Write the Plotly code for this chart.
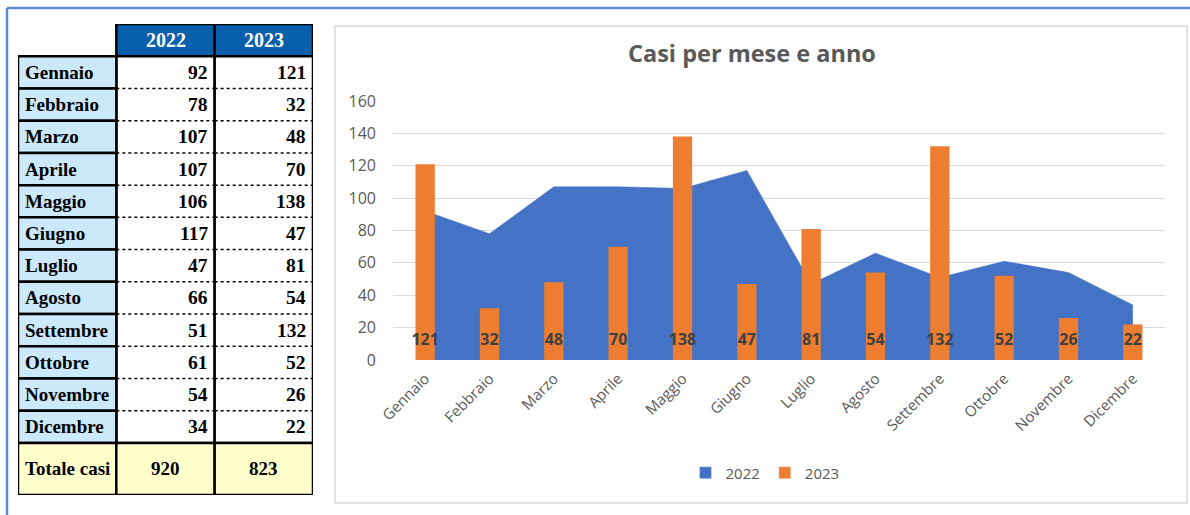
import plotly.graph_objects as go

# ---------------- data ----------------
months = ["Gennaio", "Febbraio", "Marzo", "Aprile", "Maggio", "Giugno",
          "Luglio", "Agosto", "Settembre", "Ottobre", "Novembre", "Dicembre"]
years = ["2022", "2023"]
cases_2022 = [92, 78, 107, 107, 106, 117, 47, 66, 51, 61, 54, 34]
cases_2023 = [121, 32, 48, 70, 138, 47, 81, 54, 132, 52, 26, 22]
total_label = "Totale casi"
chart_title = "Casi per mese e anno"
y_ticks = [0, 20, 40, 60, 80, 100, 120, 140, 160]

totals = [sum(cases_2022), sum(cases_2023)]

# ---------------- styles ----------------
W, H = 1190, 515
BLUE = "#4472C4"
ORANGE = "#ED7D31"
GRID = "#d9d9d9"
TXT = "#595959"
LABEL_Y = 11.7          # vertical placement of the bar labels (inside base)
SANS = "Open Sans"
SERIF = "Liberation Serif"


def px_x(p):
    return p / W


def px_y(p):
    return 1 - p / H


fig = go.Figure()

# 2022 area (underneath)
fig.add_trace(go.Scatter(
    x=months, y=cases_2022, name=years[0], mode="lines", fill="tozeroy",
    fillcolor=BLUE, line=dict(color=BLUE, width=0.5), showlegend=False,
    hoverinfo="x+y", xaxis="x", yaxis="y"))

# 2023 bars (overlay axes so they sit above the area)
fig.add_trace(go.Bar(
    x=months, y=cases_2023, name=years[1], marker=dict(color=ORANGE, line=dict(width=0)),
    width=0.3, showlegend=False, xaxis="x2", yaxis="y2"))

# bar value labels at the base
fig.add_trace(go.Scatter(
    x=months, y=[LABEL_Y] * len(months), mode="text", text=[str(v) for v in cases_2023],
    textposition="middle center",
    textfont=dict(family=SANS, size=16, color="#404040", weight="bold"),
    showlegend=False, hoverinfo="skip", xaxis="x2", yaxis="y2"))

# legend entries (square symbols like the original)
fig.add_trace(go.Bar(x=[months[0]], y=[None], name=years[0], marker_color=BLUE,
                     xaxis="x2", yaxis="y2", showlegend=True))
fig.add_trace(go.Bar(x=[months[0]], y=[None], name=years[1], marker_color=ORANGE,
                     xaxis="x2", yaxis="y2", showlegend=True))

x_dom = [px_x(393), px_x(1165)]
y_dom = [px_y(360), px_y(101)]
common_x = dict(type="category", categoryorder="array", categoryarray=months,
                range=[-0.5, len(months) - 0.5], domain=x_dom)

fig.update_layout(
    width=W, height=H, margin=dict(l=0, r=0, t=0, b=0, autoexpand=False),
    paper_bgcolor="white", plot_bgcolor="white",
    barmode="overlay",
    showlegend=True,
    legend=dict(orientation="h", x=px_x(765), xanchor="center", y=px_y(473), yanchor="middle",
                font=dict(family=SANS, size=15, color=TXT), itemwidth=30,
                bgcolor="rgba(0,0,0,0)"),
    xaxis=dict(**common_x, anchor="y", showgrid=False, showline=False, zeroline=False,
               ticks="", tickangle=-45, ticklabelstandoff=6, automargin=False,
               tickfont=dict(family=SANS, size=15, color=TXT)),
    yaxis=dict(domain=y_dom, range=[0, 160], tickvals=y_ticks, anchor="x", automargin=False,
               showgrid=True, gridcolor=GRID, gridwidth=1.4, zeroline=False,
               showline=False, ticks="", ticklabelstandoff=16,
               tickfont=dict(family=SANS, size=16, color=TXT)),
    xaxis2=dict(**common_x, overlaying="x", anchor="y2", visible=False, automargin=False),
    yaxis2=dict(domain=y_dom, range=[0, 160], overlaying="y", anchor="x2", visible=False,
                showgrid=False, automargin=False),
    # table axes
    xaxis3=dict(domain=[px_x(18), px_x(313)], range=[-0.5, 2.5], anchor="y3",
                visible=False, fixedrange=True, automargin=False),
    yaxis3=dict(domain=[px_y(495), px_y(24)], range=[12.5 + 52 / 32.2, -0.5], anchor="x3",
                visible=False, fixedrange=True, automargin=False),
)

# chart title
annotations = [dict(text=chart_title, x=px_x(752), y=px_y(53), xref="paper", yref="paper",
                    xanchor="center", yanchor="middle", showarrow=False,
                    font=dict(family=SANS, size=23.5, color=TXT, weight="bold"))]

shapes = []
# outer light-blue frame (top and left)
shapes.append(dict(type="line", xref="paper", yref="paper", x0=px_x(7), x1=1, y0=px_y(8), y1=px_y(8),
                   line=dict(color="#5b8bd0", width=2.5)))
shapes.append(dict(type="line", xref="paper", yref="paper", x0=px_x(7), x1=px_x(7), y0=px_y(8), y1=0,
                   line=dict(color="#5b8bd0", width=2.5)))
# chart frame
shapes.append(dict(type="rect", xref="paper", yref="paper", x0=px_x(335), x1=px_x(1187),
                   y0=px_y(503), y1=px_y(26), line=dict(color=GRID, width=1.5), layer="below"))

# ---------------- table ----------------
n = len(months)
tot_top, tot_bot = n + 0.5, n + 0.5 + 52 / 32.2
BORDER = dict(color="black", width=2.5)
# header cells
for j, yr in enumerate(years, start=1):
    shapes.append(dict(type="rect", xref="x3", yref="y3", x0=j - 0.5, x1=j + 0.5, y0=-0.5, y1=0.5,
                       fillcolor="#0a5fad", line=BORDER))
    annotations.append(dict(text=f"<b>{yr}</b>", x=j, y=0, xref="x3", yref="y3", showarrow=False,
                            font=dict(family=SERIF, size=20, color="white")))
# value columns
for j in (1, 2):
    shapes.append(dict(type="rect", xref="x3", yref="y3", x0=j - 0.5, x1=j + 0.5, y0=0.5, y1=n + 0.5,
                       fillcolor="white", line=BORDER))
    for i in range(1, n):
        shapes.append(dict(type="line", xref="x3", yref="y3", x0=j - 0.5, x1=j + 0.5,
                           y0=i + 0.5, y1=i + 0.5, line=dict(color="black", width=1.5, dash="dot")))
# month label cells + values
for i, m in enumerate(months, start=1):
    shapes.append(dict(type="rect", xref="x3", yref="y3", x0=-0.5, x1=0.5, y0=i - 0.5, y1=i + 0.5,
                       fillcolor="#cce9fb", line=BORDER))
    annotations.append(dict(text=f"<b>{m}</b>", x=-0.5, y=i, xref="x3", yref="y3", xanchor="left",
                            xshift=5, showarrow=False, font=dict(family=SERIF, size=19, color="black")))
    for j, vals in enumerate((cases_2022, cases_2023), start=1):
        annotations.append(dict(text=f"<b>{vals[i - 1]}</b>", x=j + 0.5, y=i, xref="x3", yref="y3",
                                xanchor="right", xshift=-5, showarrow=False,
                                font=dict(family=SERIF, size=19.5, color="black")))
# totals row
for j in range(3):
    shapes.append(dict(type="rect", xref="x3", yref="y3", x0=j - 0.5, x1=j + 0.5, y0=tot_top, y1=tot_bot,
                       fillcolor="#ffffcc", line=BORDER))
tot_mid = (tot_top + tot_bot) / 2
annotations.append(dict(text=f"<b>{total_label}</b>", x=-0.5, y=tot_mid, xref="x3", yref="y3",
                        xanchor="left", xshift=5, showarrow=False,
                        font=dict(family=SERIF, size=19, color="black")))
for j, t in enumerate(totals, start=1):
    annotations.append(dict(text=f"<b>{t}</b>", x=j, y=tot_mid, xref="x3", yref="y3",
                            showarrow=False, font=dict(family=SERIF, size=19, color="black")))

fig.update_layout(shapes=shapes, annotations=annotations)

fig.write_html("out.html", config={"displayModeBar": False},
               post_script="document.body.style.margin='0';")
